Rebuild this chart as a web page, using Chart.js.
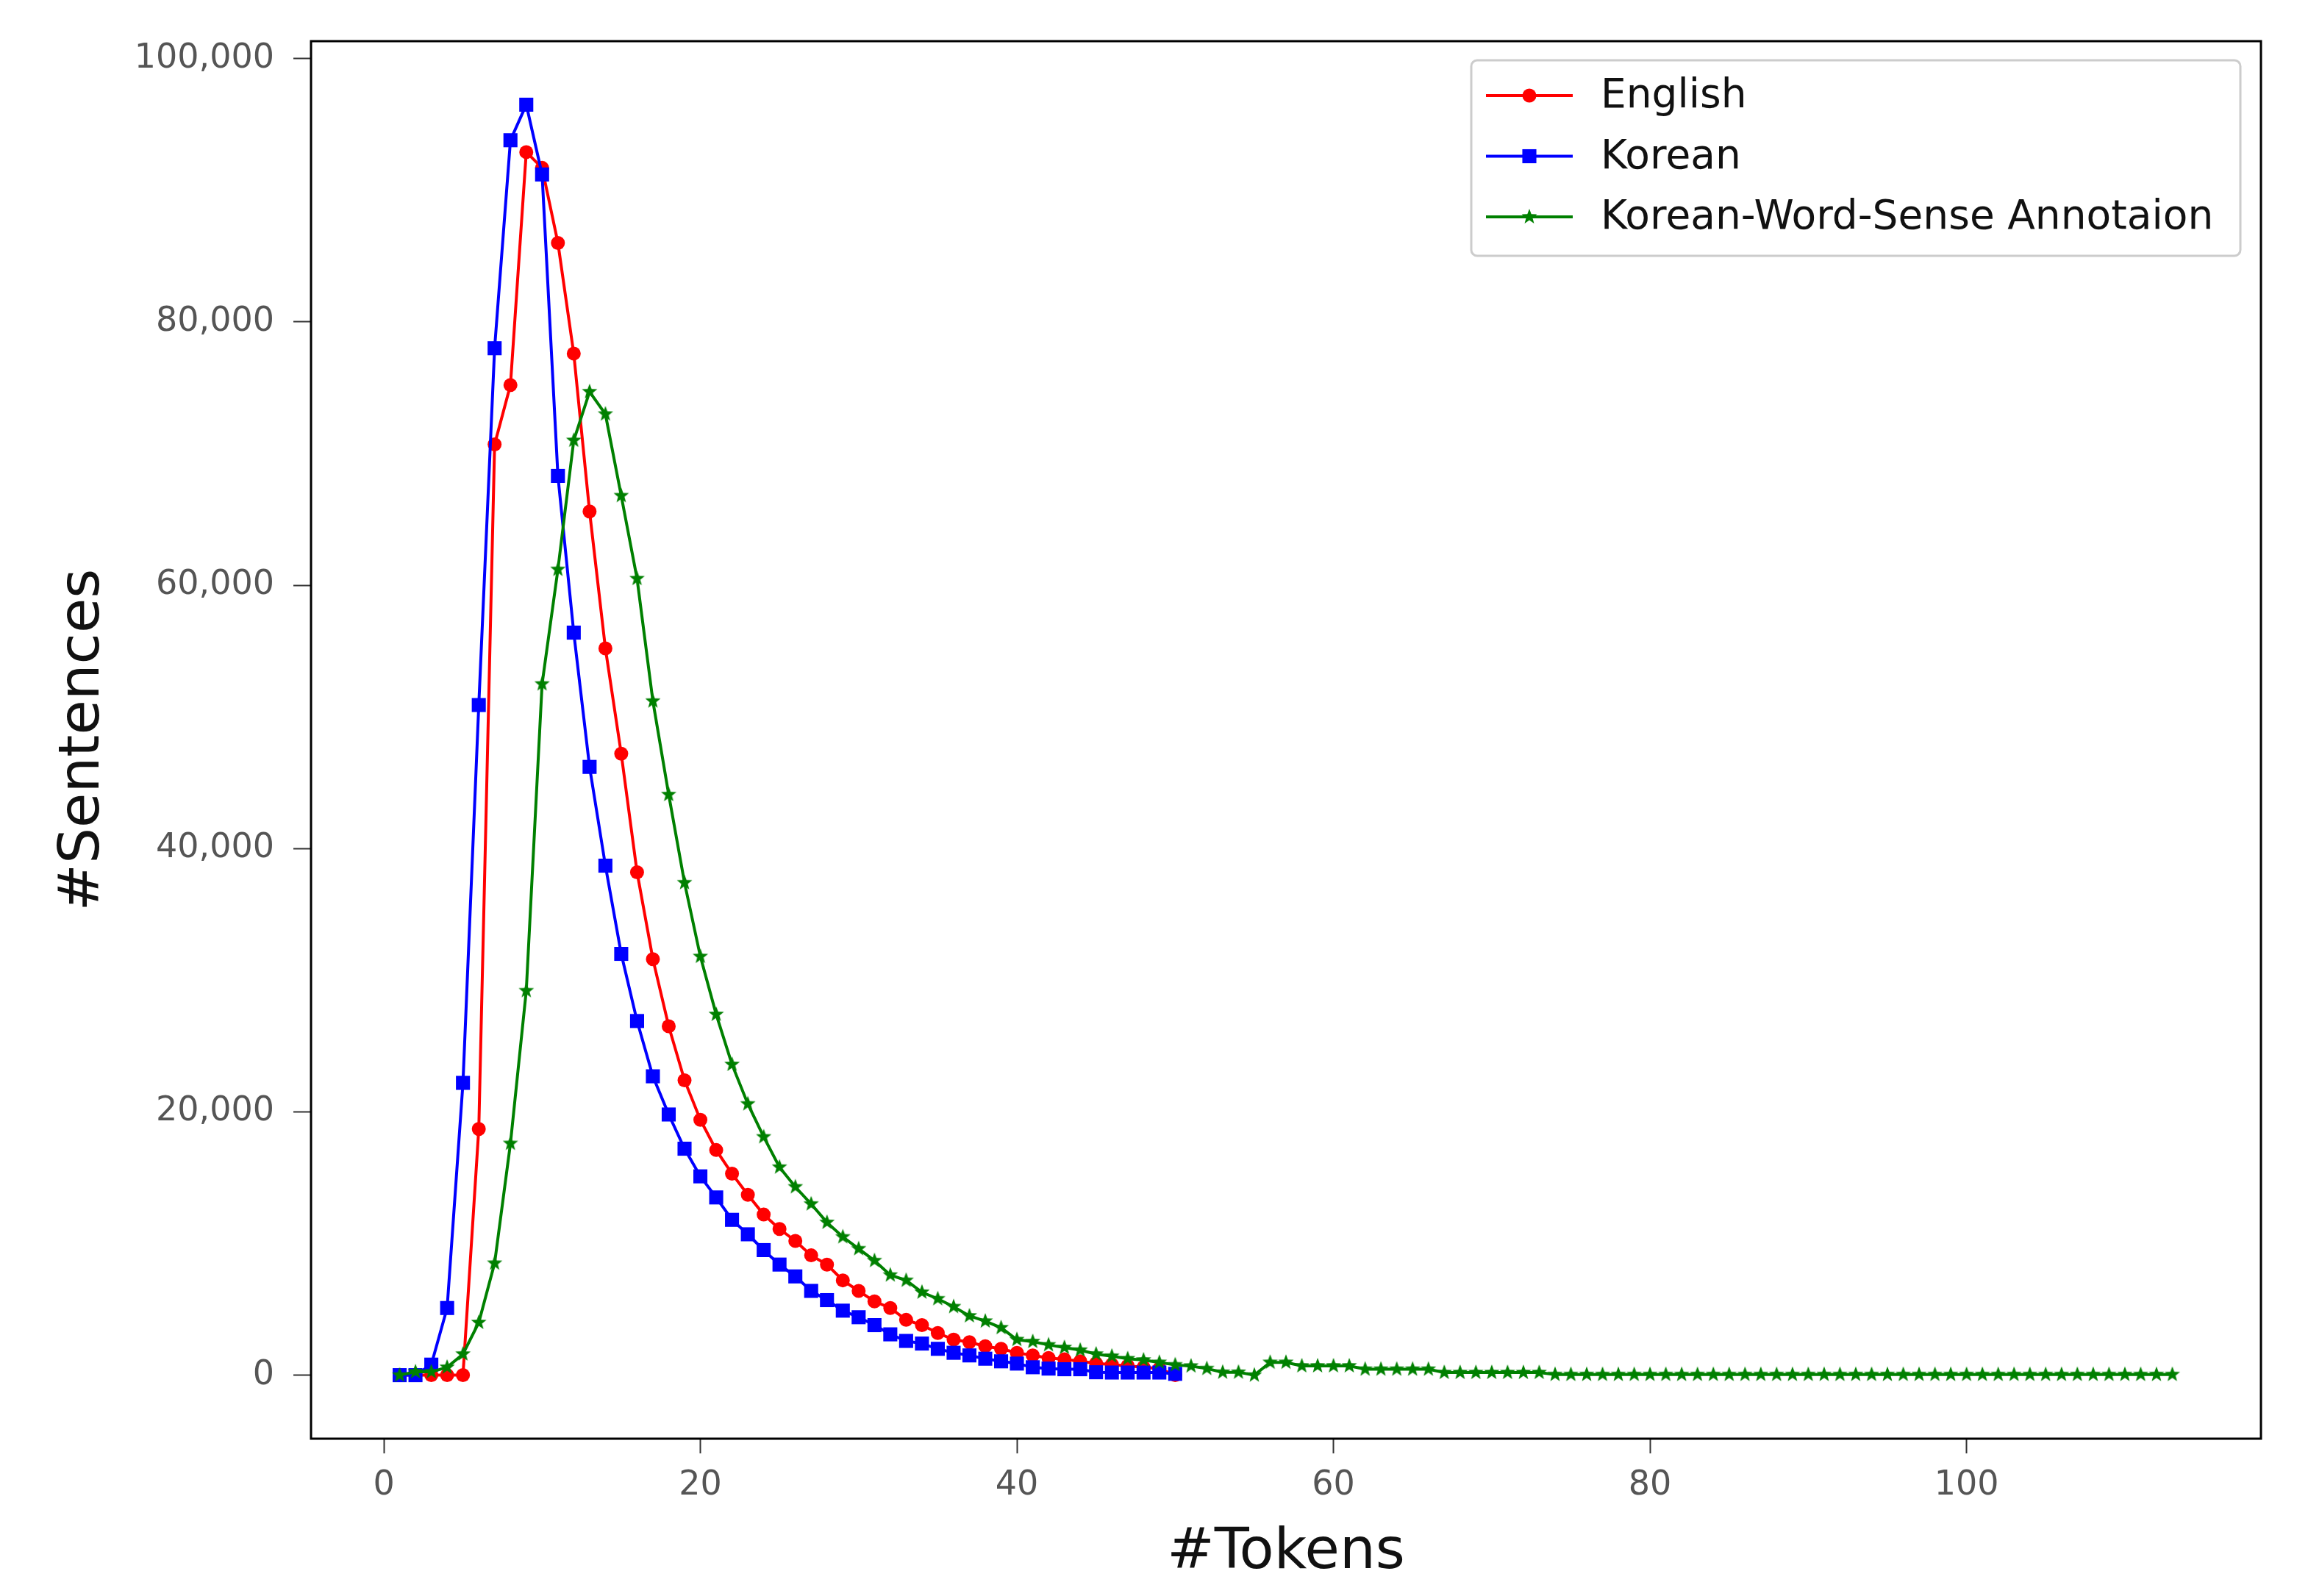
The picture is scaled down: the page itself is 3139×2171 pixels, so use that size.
<!DOCTYPE html>
<html lang="en">
<head>
<meta charset="UTF-8">
<title>#Tokens vs #Sentences</title>
<script src="https://cdn.jsdelivr.net/npm/chart.js"></script>
<style>
  html, body { margin: 0; padding: 0; background: #fff; }
  canvas { display: block; }
</style>
</head>
<body>
<canvas id="chart" width="3139" height="2171"></canvas>
<script>
// sentence counts per sentence length (x = 1, 2, 3, ...)
const english = [
  0, 0, 0, 0, 0, 18700, 70700, 75200, 92900, 91700,
  86000, 77600, 65600, 55200, 47200, 38200, 31600, 26500, 22400, 19400,
  17100, 15300, 13700, 12200, 11100, 10200, 9100, 8400, 7200, 6400,
  5600, 5100, 4200, 3800, 3200, 2700, 2500, 2200, 2000, 1700,
  1500, 1300, 1200, 1050, 900, 800, 700, 600, 500, 0
];
const korean = [
  0, 0, 800, 5100, 22200, 50900, 78000, 93800, 96500, 91200,
  68300, 56400, 46200, 38700, 32000, 26900, 22700, 19800, 17200, 15100,
  13500, 11800, 10700, 9500, 8400, 7500, 6400, 5700, 4900, 4400,
  3800, 3100, 2600, 2400, 2000, 1700, 1500, 1250, 1050, 880,
  600, 500, 450, 450, 220, 200, 200, 200, 200, 100
];
const koreanWsa = [
  0, 250, 250, 600, 1600, 4000, 8500, 17600, 29200, 52500,
  61200, 71000, 74700, 73000, 66800, 60500, 51200, 44100, 37400, 31800,
  27400, 23600, 20600, 18100, 15800, 14300, 13000, 11600, 10500, 9600,
  8700, 7600, 7200, 6300, 5800, 5200, 4500, 4100, 3600, 2700,
  2550, 2300, 2100, 1900, 1600, 1440, 1250, 1150, 970, 780,
  690, 500, 220, 220, 0, 970, 970, 700, 700, 700,
  700, 450, 450, 450, 450, 450, 200, 200, 200, 200,
  200, 200, 200, 50, 50, 50, 50, 50, 50, 50,
  50, 50, 50, 50, 50, 50, 50, 50, 50, 50,
  50, 50, 50, 50, 50, 50, 50, 50, 50, 50,
  50, 50, 50, 50, 50, 50, 50, 50, 50, 50,
  50, 50, 50
];
const seriesNames = ["English", "Korean", "Korean-Word-Sense Annotaion"];
const xTicks = [0, 20, 40, 60, 80, 100];
const yTicks = [0, 20000, 40000, 60000, 80000, 100000];

const RED = "#ff0000", BLUE = "#0000ff", GREEN = "#008000";

function toPoints(values) {
  return values.map((v, i) => ({ x: i + 1, y: v }));
}

// filled five-point star (matplotlib "*")
function starImage(r, color) {
  const c = document.createElement("canvas");
  c.width = c.height = Math.ceil(r * 2 + 2);
  const g = c.getContext("2d");
  const cx = c.width / 2, cy = c.height / 2;
  g.beginPath();
  for (let k = 0; k < 10; k++) {
    const rad = k % 2 === 0 ? r : r * 0.42;
    const a = -Math.PI / 2 + k * Math.PI / 5;
    g.lineTo(cx + rad * Math.cos(a), cy + rad * Math.sin(a));
  }
  g.closePath();
  g.fillStyle = color;
  g.fill();
  return c;
}
const star = starImage(11, GREEN);

const frame = {
  id: "frame",
  afterDraw(chart) {
    const { ctx, chartArea: a } = chart;
    ctx.save();
    ctx.strokeStyle = "#000";
    ctx.lineWidth = 3;
    ctx.strokeRect(a.left, a.top, a.right - a.left, a.bottom - a.top);
    ctx.restore();
  }
};

const legendBox = {
  id: "legendBox",
  afterDraw(chart) {
    const { ctx, chartArea: a } = chart;
    const right = a.right - 28, top = a.top + 26;
    const w = 1046, h = 266, left = right - w;
    ctx.save();
    ctx.fillStyle = "rgba(255,255,255,0.8)";
    ctx.strokeStyle = "#cccccc";
    ctx.lineWidth = 3;
    ctx.beginPath();
    ctx.roundRect(left, top, w, h, 8);
    ctx.fill();
    ctx.stroke();
    ctx.font = "55px 'DejaVu Sans'";
    ctx.textBaseline = "middle";
    chart.data.datasets.forEach((ds, i) => {
      const y = top + 48 + i * 82.5;
      const cx = left + 79;
      ctx.strokeStyle = ds.borderColor;
      ctx.lineWidth = 4;
      ctx.beginPath();
      ctx.moveTo(left + 20, y);
      ctx.lineTo(left + 138, y);
      ctx.stroke();
      ctx.fillStyle = ds.borderColor;
      if (ds.pointStyle === "circle") {
        ctx.beginPath();
        ctx.arc(cx, y, ds.pointRadius, 0, Math.PI * 2);
        ctx.fill();
      } else if (ds.pointStyle === "rect") {
        const s = ds.pointRadius * Math.SQRT1_2;
        ctx.fillRect(cx - s, y - s, 2 * s, 2 * s);
      } else {
        ctx.drawImage(ds.pointStyle, cx - ds.pointStyle.width / 2, y - ds.pointStyle.height / 2);
      }
      ctx.fillStyle = "#111";
      ctx.fillText(ds.label, left + 176, y + 2);
    });
    ctx.restore();
  }
};

const tickFont = { family: "'DejaVu Sans'", size: 46 };
const titleFont = { family: "'DejaVu Sans'", size: 77 };

new Chart(document.getElementById("chart"), {
  type: "line",
  data: {
    datasets: [
      { label: seriesNames[0], data: toPoints(english), borderColor: RED, backgroundColor: RED,
        pointStyle: "circle", pointRadius: 9.5, order: 2 },
      { label: seriesNames[1], data: toPoints(korean), borderColor: BLUE, backgroundColor: BLUE,
        pointStyle: "rect", pointRadius: 13.5, order: 1 },
      { label: seriesNames[2], data: toPoints(koreanWsa), borderColor: GREEN, backgroundColor: GREEN,
        pointStyle: star, pointRadius: 11, order: 0 }
    ]
  },
  options: {
    responsive: false,
    animation: false,
    devicePixelRatio: 1,
    layout: { padding: { left: 0, top: 56, right: 64, bottom: 0 } },
    elements: {
      line: { borderWidth: 4, tension: 0, fill: false },
      point: { borderWidth: 0, hoverRadius: 9 }
    },
    plugins: { legend: { display: false }, tooltip: { enabled: false } },
    scales: {
      x: {
        type: "linear",
        min: -4.6,
        max: 118.6,
        afterBuildTicks: (s) => { s.ticks = xTicks.map((v) => ({ value: v })); },
        afterFit: (s) => { s.height = 2171 - 1957; },
        border: { display: false },
        grid: { drawOnChartArea: false, drawTicks: true, tickLength: 20, tickWidth: 2, tickColor: "#333" },
        ticks: { font: tickFont, color: "#555", padding: 16, maxRotation: 0 },
        title: { display: true, text: "#Tokens", font: titleFont, color: "#111", padding: { top: 0, bottom: 12 } }
      },
      y: {
        min: -4825,
        max: 101325,
        afterBuildTicks: (s) => { s.ticks = yTicks.map((v) => ({ value: v })); },
        afterFit: (s) => { s.width = 423; },
        border: { display: false },
        grid: { drawOnChartArea: false, drawTicks: true, tickLength: 24, tickWidth: 2, tickColor: "#333" },
        ticks: { font: tickFont, color: "#555", padding: 26, callback: (v) => v.toLocaleString("en-US") },
        title: { display: true, text: "#Sentences", font: titleFont, color: "#111", padding: { top: 68, bottom: 0 } }
      }
    }
  },
  plugins: [frame, legendBox]
});
</script>
</body>
</html>
